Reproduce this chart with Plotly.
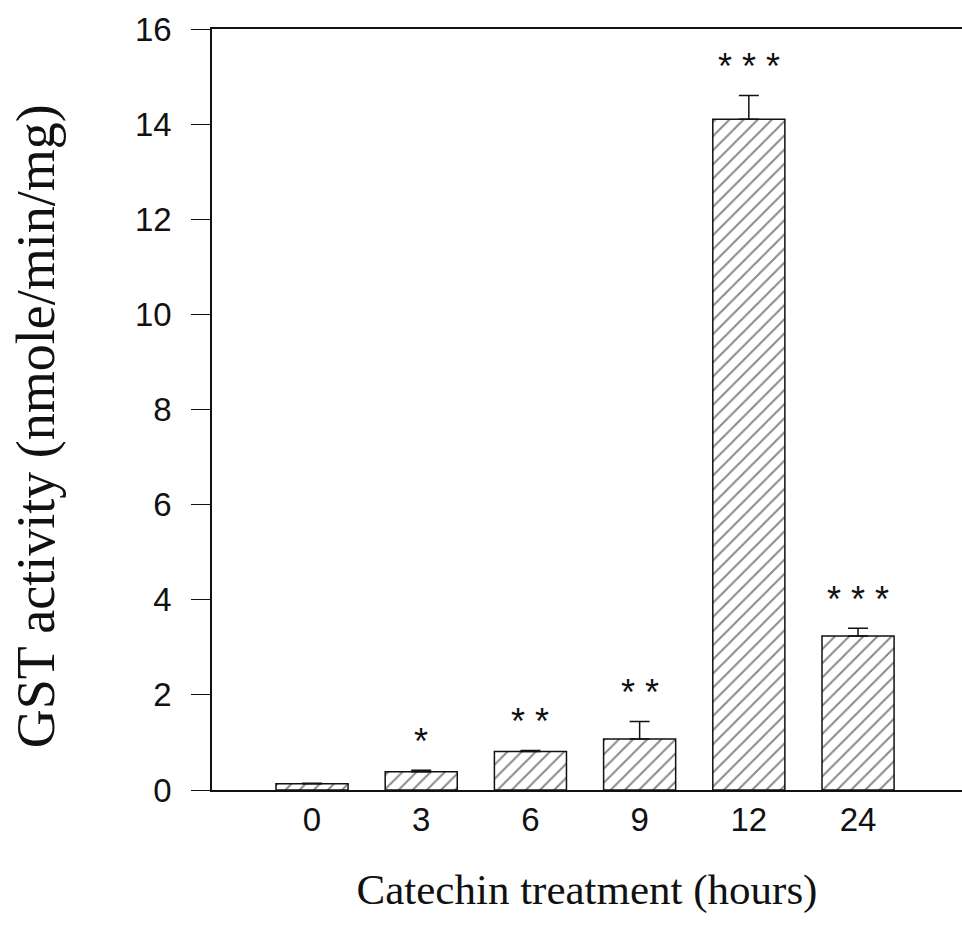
import plotly.graph_objects as go

# Data
categories = ["0", "3", "6", "9", "12", "24"]
means = [0.13, 0.385, 0.81, 1.07, 14.10, 3.24]
errors = [0.01, 0.03, 0.02, 0.37, 0.50, 0.16]
significance = ["", "*", "**", "**", "***", "***"]
y_ticks = [0, 2, 4, 6, 8, 10, 12, 14, 16]
y_title = "GST activity (nmole/min/mg)"
x_title = "Catechin treatment (hours)"

INK = "#111111"

fig = go.Figure()
fig.add_trace(go.Bar(
    x=categories,
    y=means,
    width=0.66,
    marker=dict(
        color="white",
        line=dict(color=INK, width=1.5),
        pattern=dict(shape="/", size=10, solidity=0.2, fgcolor=INK, bgcolor="white"),
    ),
    error_y=dict(type="data", symmetric=False, array=errors,
                 arrayminus=[0] * len(errors),
                 color=INK, thickness=1.5, width=10),
    showlegend=False,
))

for i, (m, e, s) in enumerate(zip(means, errors, significance)):
    if s:
        fig.add_annotation(
            x=i, y=m + e, text=" ".join(s), showarrow=False,
            yanchor="middle", yshift=29,
            font=dict(family="Liberation Sans", size=36, color=INK),
        )

# y-axis title (placed as rotated annotation to match its offset)
fig.add_annotation(
    xref="paper", yref="paper", x=0, y=0.478, xanchor="center", yanchor="middle",
    xshift=-176, text=y_title, textangle=-90, showarrow=False,
    font=dict(family="Liberation Serif", size=54, color=INK),
)

fig.update_layout(
    width=962, height=928,
    margin=dict(l=212, r=0, t=29, b=138),
    paper_bgcolor="white", plot_bgcolor="white",
    xaxis=dict(
        type="category",
        range=[-0.916, 5.952],
        showline=True, mirror=True, linecolor=INK, linewidth=1.5,
        ticks="", showgrid=False, zeroline=False,
        tickfont=dict(family="Liberation Sans", size=33, color=INK),
        ticklabelstandoff=0,
        title=dict(text=x_title, standoff=37,
                   font=dict(family="Liberation Serif", size=43, color=INK)),
    ),
    yaxis=dict(
        range=[0, 16], tickvals=y_ticks,
        showline=True, linecolor=INK, linewidth=1.5,
        ticks="outside", ticklen=19, tickwidth=1.2, tickcolor=INK,
        showgrid=False, zeroline=False,
        tickfont=dict(family="Liberation Sans", size=33, color=INK),
        ticklabelstandoff=13,
    ),
)

fig.write_html("out.html")
